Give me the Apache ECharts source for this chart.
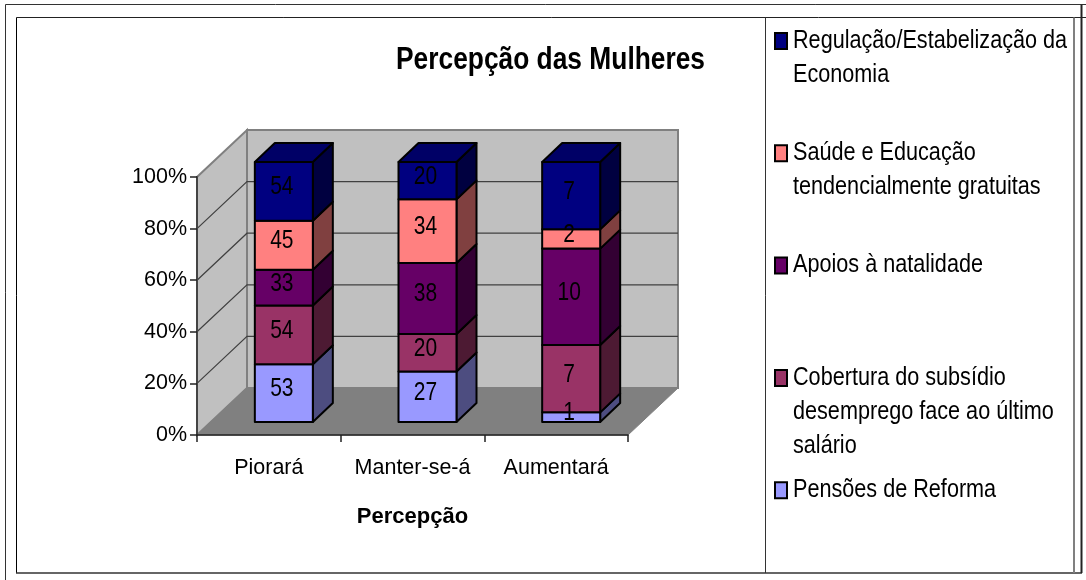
<!DOCTYPE html>
<html style="height: 100%">
<head>
    <meta charset="utf-8">
</head>
<body style="height: 100%; margin: 0; background: #fff">
<div id="chart" style="width: 1086px; height: 580px"></div>
<script src="https://cdn.jsdelivr.net/npm/echarts@6/dist/echarts.min.js"></script>
<script type="text/javascript">
    // data
    var categories = ['Piorará', 'Manter-se-á', 'Aumentará'];
    var pensoes = [53, 27, 1];
    var cobertura = [54, 20, 7];
    var apoios = [33, 38, 10];
    var saude = [45, 34, 2];
    var regulacao = [54, 20, 7];
    var yTicks = [0, 20, 40, 60, 80, 100];

    var seriesNames = [
        'Pensões de Reforma',
        'Cobertura do subsídio\ndesemprego face ao último\nsalário',
        'Apoios à natalidade',
        'Saúde e Educação\ntendencialmente gratuitas',
        'Regulação/Estabelização da\nEconomia'
    ];
    var seriesValues = [pensoes, cobertura, apoios, saude, regulacao];
    var frontColors = ['#9999FF', '#993366', '#660066', '#FF8080', '#000080'];
    var sideColors = ['#4D4D80', '#4D1A33', '#330033', '#804040', '#000040'];
    var topColors = ['#7A7ACC', '#7A2952', '#520052', '#CC6666', '#000066'];

    var FONT = '"Liberation Sans", Arial, sans-serif';
    var WALL_DX = 50, WALL_DY = -47;      // depth of the floor/walls
    var BAR_DX = 15, BAR_DY = -13;        // front face of the bars inside the depth
    var BAR_DEPTH_X = 20, BAR_DEPTH_Y = -19;
    var BAR_HALF = 29;
    var BAR_STRETCH = 1.008;

    var myChart = echarts.init(document.getElementById('chart'));

    function totalOf(i) {
        var t = 0;
        for (var s = 0; s < seriesValues.length; s++) t += seriesValues[s][i];
        return t;
    }

    // stacked percent: [category, start %, end %, raw value]
    function stackedData(s) {
        var out = [];
        for (var i = 0; i < categories.length; i++) {
            var base = 0;
            for (var k = 0; k < s; k++) base += seriesValues[k][i];
            var total = totalOf(i);
            out.push([i, base / total * 100, (base + seriesValues[s][i]) / total * 100, seriesValues[s][i]]);
        }
        return out;
    }

    function renderWalls(params, api) {
        var cs = params.coordSys;
        var x0 = cs.x, x1 = cs.x + cs.width;
        var yb = api.coord([0, 0])[1], yt = api.coord([0, 100])[1];
        var children = [];
        // side wall
        children.push({type: 'polygon', shape: {points: [[x0, yb], [x0, yt], [x0 + WALL_DX, yt + WALL_DY], [x0 + WALL_DX, yb + WALL_DY]]},
            style: {fill: '#C0C0C0', stroke: '#808080', lineWidth: 2}});
        // back wall
        children.push({type: 'rect', shape: {x: x0 + WALL_DX, y: yt + WALL_DY, width: cs.width, height: yb - yt},
            style: {fill: '#C0C0C0', stroke: '#808080', lineWidth: 2}});
        // floor
        children.push({type: 'polygon', shape: {points: [[x0, yb], [x1, yb], [x1 + WALL_DX, yb + WALL_DY], [x0 + WALL_DX, yb + WALL_DY]]},
            style: {fill: '#808080', stroke: '#808080', lineWidth: 1}});
        // gridlines
        for (var i = 1; i < yTicks.length - 1; i++) {
            var y = api.coord([0, yTicks[i]])[1];
            children.push({type: 'polyline', shape: {points: [[x0, y], [x0 + WALL_DX, y + WALL_DY], [x1 + WALL_DX, y + WALL_DY]]},
                style: {fill: 'none', stroke: '#404040', lineWidth: 1.2}});
        }
        return {type: 'group', children: children};
    }

    function makeRender(s) {
        return function (params, api) {
            var i = api.value(0);
            var yA = api.coord([i, api.value(1) * BAR_STRETCH]);
            var yB = api.coord([i, api.value(2) * BAR_STRETCH]);
            var left = yA[0] + BAR_DX - BAR_HALF, right = yA[0] + BAR_DX + BAR_HALF;
            var bottom = yA[1] + BAR_DY, top = yB[1] + BAR_DY;
            var line = {stroke: '#000', lineWidth: 2, lineJoin: 'round'};
            var children = [
                {type: 'polygon', shape: {points: [[right, bottom], [right, top], [right + BAR_DEPTH_X, top + BAR_DEPTH_Y], [right + BAR_DEPTH_X, bottom + BAR_DEPTH_Y]]},
                    style: Object.assign({fill: sideColors[s]}, line)},
                {type: 'rect', shape: {x: left, y: top, width: right - left, height: bottom - top},
                    style: Object.assign({fill: frontColors[s]}, line)}
            ];
            if (s === seriesValues.length - 1) {
                children.push({type: 'polygon', shape: {points: [[left, top], [right, top], [right + BAR_DEPTH_X, top + BAR_DEPTH_Y], [left + BAR_DEPTH_X, top + BAR_DEPTH_Y]]},
                    style: Object.assign({fill: topColors[s]}, line)});
            }
            // the original type is narrow, so squeeze the text horizontally
            children.push({type: 'text', z2: 100, x: (left + right) / 2 - 2, y: (top + bottom) / 2 - 4, scaleX: 0.84, style: {
                text: String(api.value(3)), fill: '#000', font: '25px ' + FONT,
                align: 'center', verticalAlign: 'middle'}});
            return {type: 'group', children: children};
        };
    }

    var series = [{
        type: 'custom', name: 'walls', silent: true, z: -1,
        renderItem: renderWalls, data: [[0, 0]], encode: {x: 0, y: 1}
    }];
    for (var s = 0; s < seriesValues.length; s++) {
        series.push({
            type: 'custom', name: seriesNames[s], z: 2,
            renderItem: makeRender(s), data: stackedData(s),
            encode: {x: 0, y: 2}
        });
    }

    // frames, title and legend (legend entries wrap over several lines, marker stays on the first one)
    var graphics = [
        {type: 'line', shape: {x1: 5.5, y1: 4.5, x2: 1086, y2: 4.5}, style: {stroke: '#333', lineWidth: 1}},
        {type: 'line', shape: {x1: 5.5, y1: 4.5, x2: 5.5, y2: 580}, style: {stroke: '#333', lineWidth: 1}},
        {type: 'line', shape: {x1: 16.5, y1: 17.5, x2: 1086, y2: 17.5}, style: {stroke: '#222', lineWidth: 1}},
        {type: 'line', shape: {x1: 16.5, y1: 17.5, x2: 16.5, y2: 573}, style: {stroke: '#000', lineWidth: 1}},
        {type: 'line', shape: {x1: 16, y1: 573, x2: 1082, y2: 573}, style: {stroke: '#333', lineWidth: 1.5}},
        {type: 'line', shape: {x1: 765.5, y1: 17.5, x2: 765.5, y2: 573}, style: {stroke: '#333', lineWidth: 1}},
        {type: 'line', shape: {x1: 1074, y1: 17.5, x2: 1074, y2: 573}, style: {stroke: '#808080', lineWidth: 2}},
        {type: 'line', shape: {x1: 1081.5, y1: 4.5, x2: 1081.5, y2: 573}, style: {stroke: '#222', lineWidth: 2}},
        {type: 'text', x: 550.5, y: 60, scaleX: 0.85, style: {
            text: 'Percepção das Mulheres', fill: '#000', font: 'bold 31px ' + FONT,
            align: 'center', verticalAlign: 'middle'}}
    ];
    for (var n = 0; n < seriesNames.length; n++) {
        var idx = seriesNames.length - 1 - n;
        var cy = 41 + n * 112.3;
        graphics.push({type: 'rect', shape: {x: 775, y: cy - 8, width: 12, height: 16},
            style: {fill: frontColors[idx], stroke: '#000', lineWidth: 2}});
        graphics.push({type: 'text', x: 793, y: cy - 17, scaleX: 0.865, style: {
            text: seriesNames[idx], fill: '#000', font: '25px ' + FONT, lineHeight: 34,
            align: 'left', verticalAlign: 'top'}});
    }

    var option = {
        backgroundColor: '#fff',
        animation: false,
        grid: {left: 197, top: 177, width: 431, height: 258},
        xAxis: {
            type: 'category', data: categories,
            name: 'Percepção', nameLocation: 'middle', nameGap: 71,
            nameTextStyle: {fontFamily: FONT, fontSize: 22, fontWeight: 'bold', color: '#000'},
            axisLine: {lineStyle: {color: '#222', width: 1.5}},
            axisTick: {show: true, length: 7, lineStyle: {color: '#222', width: 1.5}},
            axisLabel: {fontFamily: FONT, fontSize: 21.5, color: '#000', margin: 22, interval: 0}
        },
        yAxis: {
            type: 'value', min: 0, max: 100, interval: 20,
            axisLine: {show: true, lineStyle: {color: '#444', width: 2}},
            axisTick: {show: true, length: 7, lineStyle: {color: '#222', width: 1.5}},
            splitLine: {show: false},
            axisLabel: {formatter: '{value}%', fontFamily: FONT, fontSize: 21.5, color: '#000', margin: 10}
        },
        graphic: graphics,
        series: series
    };
    myChart.setOption(option);
</script>
</body>
</html>
